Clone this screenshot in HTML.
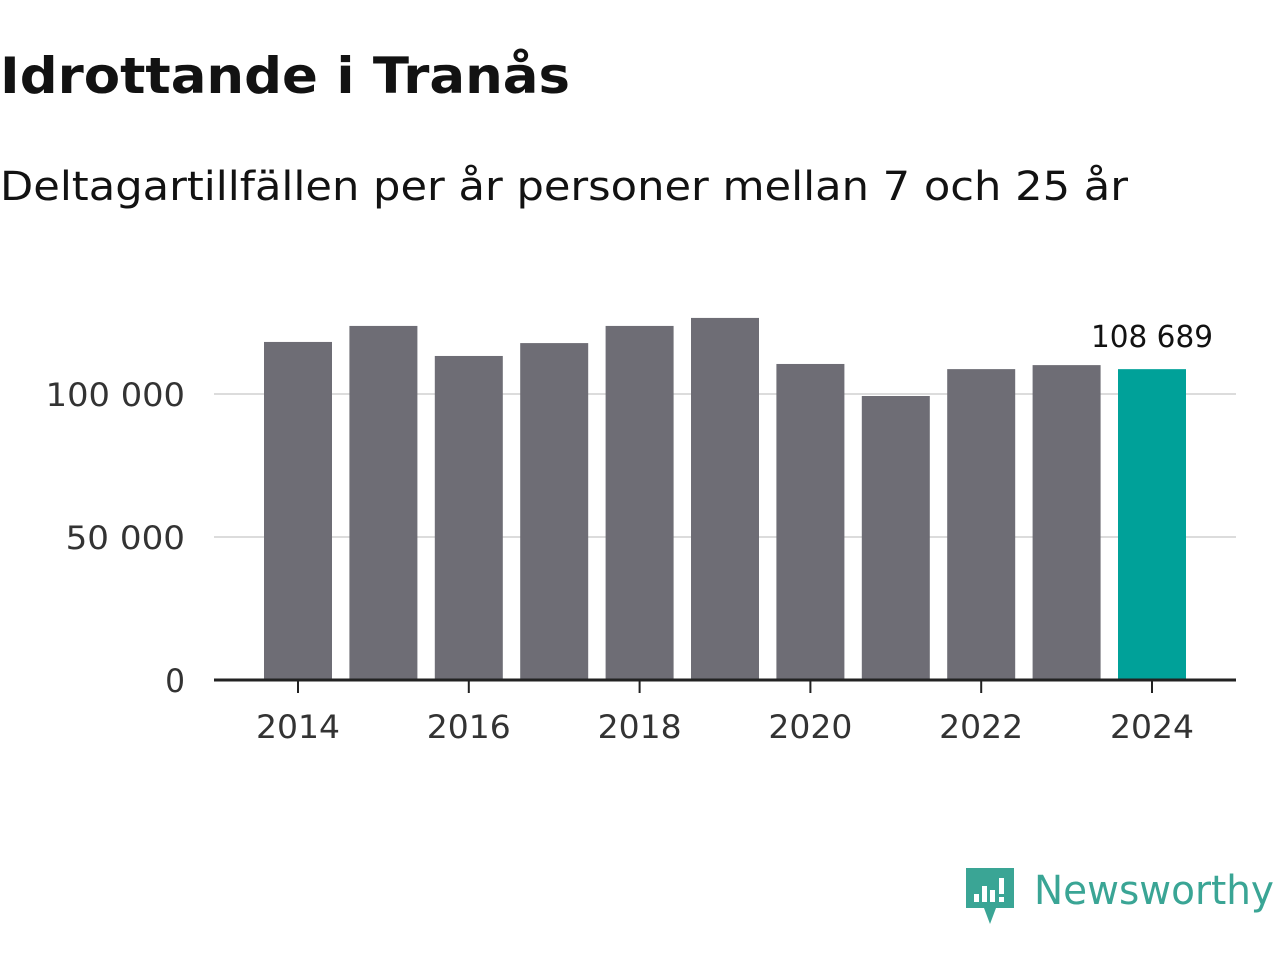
<!DOCTYPE html>
<html><head><meta charset="utf-8"><style>
body{margin:0;background:#fff;font-family:"DejaVu Sans","Liberation Sans",sans-serif;}
#wrap{position:relative;width:1280px;height:960px;overflow:hidden;}
</style></head><body>
<div id="wrap">
<svg id="svg" width="1280" height="960">
<text x="0" y="93" font-size="50" font-weight="bold" fill="#121212" textLength="570" lengthAdjust="spacingAndGlyphs">Idrottande i Tranås</text>
<text x="0" y="200" font-size="40" fill="#121212" textLength="1128" lengthAdjust="spacingAndGlyphs">Deltagartillfällen per år personer mellan 7 och 25 år</text>
<g id="grid"></g><g id="bars"></g><g id="axis"></g>
<g>
<path d="M966 868 h48 v40 h-18 l-6 16 l-6 -16 h-18 z" fill="#3aa595"/>
<rect x="974" y="894" width="5" height="8" fill="#fff"/><rect x="982" y="886" width="5" height="16" fill="#fff"/><rect x="990" y="890" width="5" height="12" fill="#fff"/><rect x="999" y="878" width="5" height="16" fill="#fff"/><rect x="999" y="897" width="5" height="5" fill="#fff"/>
<text x="1034" y="904" font-size="40" fill="#3aa595" textLength="240" lengthAdjust="spacingAndGlyphs">Newsworthy</text>
</g>
</svg>
</div>
<script>
const years=[2014,2015,2016,2017,2018,2019,2020,2021,2022,2023,2024];
const values=[118200,123800,113300,117800,123800,126600,110500,99300,108700,110100,108689];
const yTicks=[0,50000,100000];
const yTickLabels=["0","50 000","100 000"];
const xTickYears=[2014,2016,2018,2020,2022,2024];
const ns="http://www.w3.org/2000/svg";
const y0=680,pxPer=143/50000;
const yS=v=>y0-v*pxPer;
const xS=yr=>298+(yr-2014)*85.4;
function mk(t,a,p){const e=document.createElementNS(ns,t);for(const k in a)e.setAttribute(k,a[k]);p.appendChild(e);return e;}
const grid=document.getElementById('grid'),bars=document.getElementById('bars'),axis=document.getElementById('axis');
yTicks.forEach((v,i)=>{
 if(v>0){const l=mk('line',{x1:214,x2:1236,y1:yS(v),y2:yS(v),stroke:'#dcdcdc','stroke-width':2},grid);
 
 }
 const lbl=yTickLabels[i];
 const t=mk('text',{x:185,y:yS(v)+12,'font-size':32,'text-anchor':'end',fill:'#333',textLength:lbl.length*19.9,lengthAdjust:'spacingAndGlyphs'},axis);t.textContent=lbl;
 
 
});
years.forEach((yr,i)=>{
 const last=i===years.length-1;
 const r=mk('rect',{x:xS(yr)-34,y:yS(values[i]),width:68,height:y0-yS(values[i]),fill:last?'#00a199':'#6e6d75'},bars);
 
 
 if(last){const t=mk('text',{x:xS(yr),y:yS(values[i])-22,'font-size':30,'text-anchor':'middle',fill:'#121212',textLength:122,lengthAdjust:'spacingAndGlyphs'},bars);
 t.textContent=values[i].toString().replace(/\B(?=(\d{3})+(?!\d))/g,' ');
 
 }
});
const ax=mk('line',{x1:214,x2:1236,y1:680,y2:680,stroke:'#222','stroke-width':3},axis);


xTickYears.forEach(yr=>{
 const tk=mk('line',{x1:xS(yr),x2:xS(yr),y1:680,y2:693,stroke:'#222','stroke-width':2},axis);
 
 
 const t=mk('text',{x:xS(yr),y:738,'font-size':32,'text-anchor':'middle',fill:'#333',textLength:84,lengthAdjust:'spacingAndGlyphs'},axis);t.textContent=yr;
 
 
});
</script>
</body></html>
